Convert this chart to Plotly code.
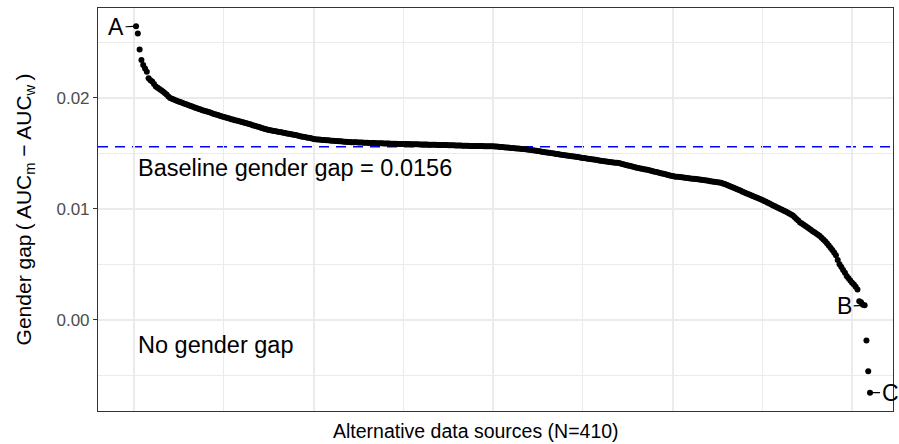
import plotly.graph_objects as go

# ---------------- data ----------------
gap_values = [
    0.02646, 0.02580, 0.02437, 0.02341, 0.02296, 0.02266, 0.02236, 0.02177, 0.02160, 0.02148,
    0.02125, 0.02103, 0.02092, 0.02081, 0.02070, 0.02058, 0.02045, 0.02030, 0.02012, 0.01999,
    0.01992, 0.01986, 0.01980, 0.01973, 0.01966, 0.01960, 0.01954, 0.01948, 0.01942, 0.01936,
    0.01930, 0.01924, 0.01918, 0.01912, 0.01906, 0.01900, 0.01895, 0.01890, 0.01885, 0.01880,
    0.01875, 0.01870, 0.01864, 0.01858, 0.01853, 0.01848, 0.01843, 0.01838, 0.01833, 0.01829,
    0.01824, 0.01819, 0.01814, 0.01809, 0.01805, 0.01800, 0.01796, 0.01792, 0.01787, 0.01783,
    0.01778, 0.01774, 0.01769, 0.01765, 0.01760, 0.01755, 0.01750, 0.01745, 0.01740, 0.01735,
    0.01730, 0.01725, 0.01720, 0.01716, 0.01712, 0.01709, 0.01705, 0.01702, 0.01699, 0.01696,
    0.01693, 0.01690, 0.01686, 0.01683, 0.01680, 0.01677, 0.01674, 0.01671, 0.01668, 0.01665,
    0.01662, 0.01656, 0.01653, 0.01650, 0.01647, 0.01644, 0.01641, 0.01638, 0.01635, 0.01630,
    0.01628, 0.01626, 0.01625, 0.01623, 0.01622, 0.01620, 0.01619, 0.01618, 0.01616, 0.01615,
    0.01614, 0.01612, 0.01611, 0.01610, 0.01609, 0.01608, 0.01606, 0.01605, 0.01603, 0.01602,
    0.01601, 0.01601, 0.01600, 0.01600, 0.01599, 0.01598, 0.01598, 0.01597, 0.01596, 0.01596,
    0.01595, 0.01594, 0.01594, 0.01593, 0.01592, 0.01592, 0.01591, 0.01591, 0.01590, 0.01590,
    0.01589, 0.01589, 0.01588, 0.01588, 0.01587, 0.01587, 0.01586, 0.01586, 0.01585, 0.01585,
    0.01584, 0.01584, 0.01584, 0.01583, 0.01583, 0.01582, 0.01582, 0.01582, 0.01581, 0.01581,
    0.01580, 0.01580, 0.01580, 0.01579, 0.01579, 0.01578, 0.01578, 0.01578, 0.01577, 0.01577,
    0.01576, 0.01576, 0.01575, 0.01575, 0.01574, 0.01574, 0.01573, 0.01573, 0.01572, 0.01572,
    0.01571, 0.01571, 0.01570, 0.01570, 0.01569, 0.01569, 0.01568, 0.01568, 0.01567, 0.01567,
    0.01567, 0.01566, 0.01566, 0.01566, 0.01565, 0.01565, 0.01565, 0.01565, 0.01564, 0.01564,
    0.01563, 0.01562, 0.01560, 0.01559, 0.01557, 0.01556, 0.01554, 0.01553, 0.01551, 0.01550,
    0.01548, 0.01547, 0.01545, 0.01544, 0.01542, 0.01541, 0.01539, 0.01538, 0.01536, 0.01534,
    0.01531, 0.01529, 0.01526, 0.01524, 0.01521, 0.01519, 0.01516, 0.01514, 0.01511, 0.01509,
    0.01506, 0.01504, 0.01501, 0.01499, 0.01496, 0.01494, 0.01491, 0.01489, 0.01486, 0.01484,
    0.01481, 0.01479, 0.01476, 0.01474, 0.01472, 0.01470, 0.01467, 0.01465, 0.01462, 0.01460,
    0.01458, 0.01455, 0.01453, 0.01450, 0.01448, 0.01445, 0.01443, 0.01440, 0.01437, 0.01434,
    0.01432, 0.01429, 0.01427, 0.01425, 0.01423, 0.01421, 0.01419, 0.01417, 0.01415, 0.01413,
    0.01409, 0.01405, 0.01400, 0.01396, 0.01392, 0.01388, 0.01384, 0.01380, 0.01376, 0.01372,
    0.01368, 0.01365, 0.01362, 0.01358, 0.01355, 0.01352, 0.01348, 0.01344, 0.01340, 0.01336,
    0.01332, 0.01328, 0.01324, 0.01320, 0.01316, 0.01312, 0.01308, 0.01304, 0.01300, 0.01296,
    0.01293, 0.01291, 0.01289, 0.01287, 0.01285, 0.01283, 0.01281, 0.01279, 0.01277, 0.01275,
    0.01273, 0.01271, 0.01269, 0.01267, 0.01265, 0.01263, 0.01261, 0.01259, 0.01256, 0.01253,
    0.01250, 0.01248, 0.01245, 0.01243, 0.01240, 0.01238, 0.01235, 0.01230, 0.01224, 0.01218,
    0.01211, 0.01205, 0.01198, 0.01191, 0.01184, 0.01177, 0.01170, 0.01163, 0.01156, 0.01149,
    0.01142, 0.01135, 0.01128, 0.01121, 0.01114, 0.01107, 0.01100, 0.01093, 0.01087, 0.01080,
    0.01072, 0.01064, 0.01056, 0.01048, 0.01040, 0.01032, 0.01024, 0.01016, 0.01008, 0.01000,
    0.00992, 0.00984, 0.00976, 0.00968, 0.00960, 0.00950, 0.00940, 0.00925, 0.00910, 0.00895,
    0.00879, 0.00868, 0.00857, 0.00846, 0.00835, 0.00824, 0.00812, 0.00800, 0.00789, 0.00778,
    0.00767, 0.00756, 0.00740, 0.00724, 0.00708, 0.00690, 0.00670, 0.00650, 0.00630, 0.00607,
    0.00583, 0.00540, 0.00502, 0.00478, 0.00450, 0.00425, 0.00397, 0.00375, 0.00355, 0.00335,
    0.00320, 0.00300, 0.00275, 0.00168, 0.00160, 0.00138, 0.00132, -0.00186, -0.00463, -0.00655,
]
ranks = list(range(1, len(gap_values) + 1))

baseline_gap = 0.0156
baseline_text = "Baseline gender gap = 0.0156"
no_gap_text = "No gender gap"
no_gap_value = 0.0
labelled_points = [("A", 1), ("B", 407), ("C", 410)]

y_tick_vals = [0.00, 0.01, 0.02]
y_tick_text = ["0.00", "0.01", "0.02"]

x_title = "Alternative data sources (N=410)"
y_title = "Gender gap\u2009(\u2009AUC<sub>m</sub> \u2212 AUC<sub>w</sub>\u2009)"

FONT = "Liberation Sans, Arial, Helvetica, sans-serif"

# ---------------- figure ----------------
fig = go.Figure()
fig.add_trace(go.Scatter(
    x=ranks, y=gap_values, mode="markers",
    marker=dict(color="black", size=6, line=dict(width=0)),
    showlegend=False, hoverinfo="x+y",
))

fig.add_shape(type="line", xref="x domain", yref="y", x0=0, x1=1,
              y0=no_gap_value, y1=no_gap_value,
              line=dict(color="#A3A3A3", width=1.6), layer="below")
fig.add_shape(type="line", xref="x domain", yref="y", x0=0, x1=1,
              y0=baseline_gap, y1=baseline_gap,
              line=dict(color="#0000FF", width=1.6, dash="10px,7px"), layer="below")

# text annotations
fig.add_annotation(x=1, y=0.0137, text=baseline_text, showarrow=False, xanchor="left",
                   yanchor="middle", font=dict(family=FONT, size=23.5, color="black"))
fig.add_annotation(x=1, y=-0.00224, text=no_gap_text, showarrow=False, xanchor="left",
                   yanchor="middle", font=dict(family=FONT, size=23.5, color="black"))

label_offsets = {"A": (-20, 1), "B": (-20, 1), "C": (20, 0)}
for lab, r in labelled_points:
    ax, ay = label_offsets[lab]
    fig.add_annotation(x=r, y=gap_values[r - 1], text=lab, showarrow=True,
                       arrowhead=0, arrowwidth=1.2, arrowcolor="black", standoff=2,
                       ax=ax, ay=ay, font=dict(family=FONT, size=23, color="black"))

# x-axis title (placed as paper annotation to match the reference's horizontal offset)
fig.add_annotation(xref="paper", yref="paper", x=0.4755, y=-0.05, text=x_title,
                   showarrow=False, xanchor="center", yanchor="middle",
                   font=dict(family=FONT, size=19.5, color="black"))

grid_col = "#EBEBEB"
fig.update_xaxes(
    range=[-20.2, 422.8], tick0=0, dtick=100,
    showgrid=True, gridcolor=grid_col, gridwidth=1.5,
    minor=dict(tick0=0, dtick=50, showgrid=True, gridcolor=grid_col, gridwidth=0.8),
    showticklabels=False, ticks="", zeroline=False,
    showline=True, mirror=True, linecolor="#333333", linewidth=1.1,
)
fig.update_yaxes(
    range=[-0.0082, 0.0281], tickvals=y_tick_vals, ticktext=y_tick_text,
    showgrid=True, gridcolor=grid_col, gridwidth=1.5,
    minor=dict(tickvals=[-0.005, 0.005, 0.015, 0.025], showgrid=True, gridcolor=grid_col, gridwidth=0.8),
    ticks="outside", ticklen=4, tickwidth=1.1, tickcolor="#333333",
    tickfont=dict(family=FONT, size=17, color="#4D4D4D"),
    zeroline=False,
    showline=True, mirror=True, linecolor="#333333", linewidth=1.1,
    title=dict(text=y_title, font=dict(family=FONT, size=21, color="black"), standoff=19),
)

fig.update_layout(
    width=899, height=444,
    margin=dict(l=98, r=6, t=8, b=33, autoexpand=False),
    plot_bgcolor="white", paper_bgcolor="white",
    font=dict(family=FONT),
)

# remove the browser's default 8px body margin so the figure fills the window exactly
fig.write_html("out.html",
               config={"displayModeBar": False},
               post_script="document.body.style.margin='0';document.body.style.overflow='hidden';")
